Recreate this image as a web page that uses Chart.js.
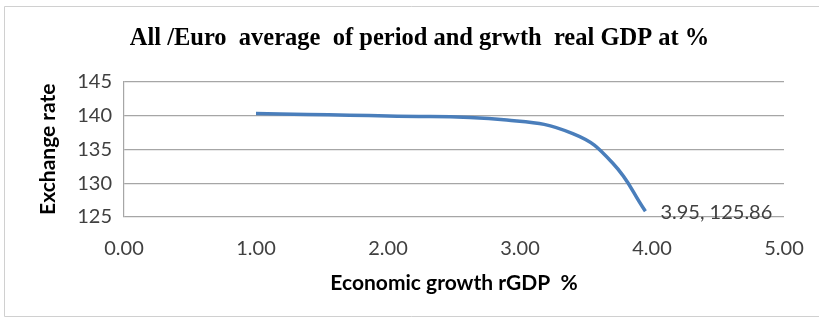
<!DOCTYPE html>
<html>
<head>
<meta charset="utf-8">
<script src="https://cdn.jsdelivr.net/npm/chart.js@4.4.1/dist/chart.umd.min.js"></script>
<style>
  html, body { margin: 0; padding: 0; background: #ffffff; }
  #wrap { position: relative; width: 819px; height: 322px; }
</style>
</head>
<body>
<div id="wrap"><canvas id="c" width="819" height="322"></canvas></div>
<script>
// Economic growth (rGDP %) against the ALL/EUR exchange rate
const growth = [1.00, 2.00, 2.90, 3.40, 3.70, 3.95];
const exchangeRate = [140.25, 139.90, 139.30, 137.30, 133.00, 125.86];
const xTicks = [0, 1, 2, 3, 4, 5];
const yTicks = [125, 130, 135, 140, 145];
const labelIndex = 5; // point annotated with its coordinates

const points = growth.map((g, i) => ({ x: g, y: exchangeRate[i] }));

const frame = {
  id: 'frame',
  beforeDraw(chart) {
    const ctx = chart.ctx;
    ctx.save();
    ctx.fillStyle = '#ffffff';
    ctx.fillRect(0, 0, chart.width, chart.height);
    ctx.strokeStyle = '#d0d0d0';
    ctx.lineWidth = 1;
    ctx.beginPath();
    ctx.moveTo(819, 6.5);
    ctx.lineTo(4.5, 6.5);
    ctx.lineTo(4.5, 316.5);
    ctx.lineTo(819, 316.5);
    ctx.stroke();
    ctx.restore();
  }
};

const pointLabel = {
  id: 'pointLabel',
  afterDatasetsDraw(chart) {
    const ctx = chart.ctx;
    const xs = chart.scales.x, ys = chart.scales.y;
    const gx = growth[labelIndex], ry = exchangeRate[labelIndex];
    const px = xs.getPixelForValue(gx), py = ys.getPixelForValue(ry);
    ctx.save();
    ctx.font = '20px Lato';
    ctx.fillStyle = '#404040';
    ctx.textAlign = 'left';
    ctx.textBaseline = 'middle';
    ctx.fillText(gx.toFixed(2) + ', ' + ry.toFixed(2), px + 15, py + 1);
    ctx.restore();
  }
};

new Chart(document.getElementById('c'), {
  type: 'scatter',
  data: {
    datasets: [{
      data: points,
      showLine: true,
      borderColor: '#4a7ebb',
      backgroundColor: '#4a7ebb',
      borderWidth: 3.5,
      tension: 0.45,
      pointRadius: 0,
      pointHoverRadius: 0
    }]
  },
  options: {
    responsive: false,
    animation: false,
    devicePixelRatio: 1,
    layout: { padding: { left: 28, right: 8, top: 0, bottom: 0 } },
    plugins: {
      legend: { display: false },
      tooltip: { enabled: false },
      title: {
        display: true,
        text: 'All /Euro  average  of period and grwth  real GDP at %',
        color: '#000000',
        font: { family: 'Liberation Serif', size: 24.5, weight: 'bold' },
        padding: { top: 24, bottom: 28 }
      }
    },
    scales: {
      x: {
        type: 'linear',
        min: 0,
        max: 5,
        afterBuildTicks(scale) { scale.ticks = xTicks.map(v => ({ value: v })); },
        afterFit(scale) {
          scale.height = 322 - 217;
          scale.paddingLeft = 0;
          scale.paddingRight = 35;
        },
        grid: { display: false, drawTicks: false },
        border: { display: false },
        ticks: {
          padding: 20,
          color: '#404040',
          font: { family: 'Lato', size: 20 },
          callback: v => Number(v).toFixed(2)
        },
        title: {
          display: true,
          text: 'Economic growth rGDP  %',
          color: '#000000',
          font: { family: 'Lato', size: 21, weight: 'bold' },
          padding: { top: 0, bottom: 26 }
        }
      },
      y: {
        min: 125,
        max: 145,
        afterBuildTicks(scale) { scale.ticks = yTicks.map(v => ({ value: v })); },
        afterFit(scale) { scale.width = 124 - 28; },
        grid: { color: '#a6a6a6', lineWidth: 1.2, drawTicks: false },
        border: { display: true, color: '#a6a6a6', width: 1.2 },
        ticks: {
          padding: 12,
          color: '#404040',
          font: { family: 'Lato', size: 20 }
        },
        title: {
          display: true,
          text: 'Exchange rate',
          color: '#000000',
          font: { family: 'Lato', size: 21, weight: 'bold' },
          padding: { top: 8, bottom: 4 }
        }
      }
    }
  },
  plugins: [frame, pointLabel]
});
</script>
</body>
</html>
